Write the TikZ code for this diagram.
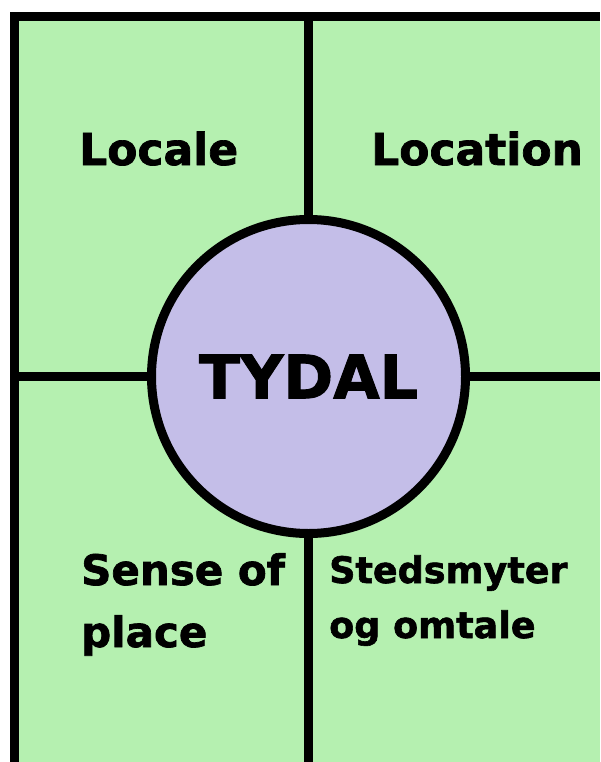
\documentclass[tikz,border=0pt]{standalone}
\usepackage{fontspec}
\setmainfont{DejaVu Sans}[BoldFeatures={FakeBold=1.6}]
\definecolor{fieldgreen}{RGB}{181,240,176}
\definecolor{hublilac}{RGB}{196,190,232}
\tikzset{
  wall/.style={line width=9pt},
  hub/.style={circle, draw, line width=9pt, fill=hublilac, minimum size=314pt,
    inner sep=0pt, font=\bfseries\fontsize{60}{72}\selectfont},
  fieldtext/.style={anchor=base west, inner sep=0pt, align=left}
}

\begin{document}
\begin{tikzpicture}[x=1pt,y=-1pt]
		\useasboundingbox (0,0) rectangle (600,762);
		\fill [fieldgreen] (14.5,16.5) rectangle (600,762);
		\draw [wall] (14.5,762) -- (14.5,16.5) -- (600,16.5);

		\node [hub] (tydal) at (308.5,376.5) {TYDAL};

		\coordinate (top) at (tydal.north |- 0,16.5);
		\coordinate (bottom) at (tydal.south |- 0,762);
		\coordinate (left) at (tydal.west -| 14.5,0);
		\coordinate (right) at (tydal.east -| 600,0);

		\draw [wall] (top) -- (tydal.north);
		\draw [wall] (tydal.south) -- (bottom);
		\draw [wall] (left) -- (tydal.west);
		\draw [wall] (tydal.east) -- (right);

		% base anchor of two-line nodes sits on the last line
		\node [fieldtext, font=\bfseries\fontsize{44}{52}\selectfont] (locale) at (79,165) {Locale};
		\node [fieldtext, font=\bfseries\fontsize{44}{52}\selectfont] (location) at (371,165) {Location};
		\node [fieldtext, font=\bfseries\fontsize{42}{62}\selectfont] (sense) at (81,647) {Sense of\\place};
		\node [fieldtext, font=\bfseries\fontsize{36.5}{55}\selectfont] (myter) at (329,638) {Stedsmyter\\og omtale};

	\end{tikzpicture}
\end{document}
